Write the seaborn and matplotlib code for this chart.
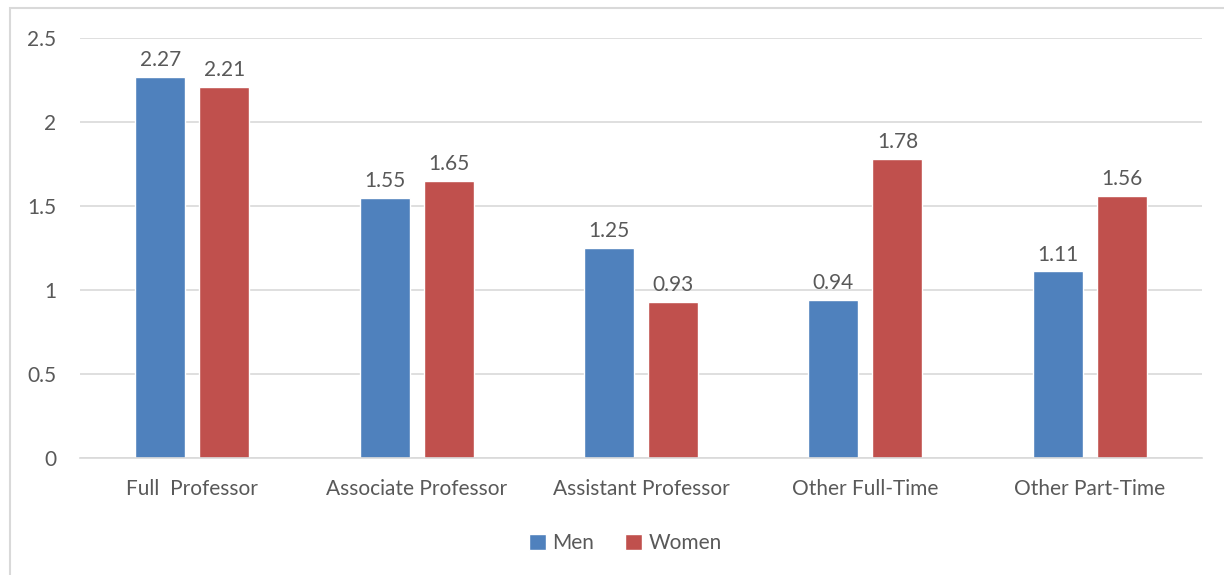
import pandas as pd
import matplotlib.pyplot as plt
import seaborn as sns
from matplotlib.patches import Rectangle

categories = ["Full  Professor", "Associate Professor", "Assistant Professor",
              "Other Full-Time", "Other Part-Time"]
men = [2.27, 1.55, 1.25, 0.94, 1.11]
women = [2.21, 1.65, 0.93, 1.78, 1.56]

df = pd.DataFrame({
    "Category": categories * 2,
    "Value": men + women,
    "Group": ["Men"] * len(men) + ["Women"] * len(women),
})

sns.set_style("white")
plt.rcParams['font.family'] = ['Lato', 'DejaVu Sans']
txt = "#595959"
fs = 15

fig = plt.figure(figsize=(12.24, 5.75), dpi=100)
ax = fig.add_axes([0.0654, 0.2035, 0.9166, 0.7305])

sns.barplot(data=df, x="Category", y="Value", hue="Group",
            palette=["#4F81BD", "#C0504D"], width=0.57, gap=0.22,
            ax=ax, saturation=1)

for c in ax.containers:
    ax.bar_label(c, labels=[f"{v:.2f}" for v in c.datavalues],
                 padding=5, fontsize=fs, color=txt)

ax.set_ylim(0, 2.5)
ax.set_yticks([0, 0.5, 1, 1.5, 2, 2.5])
ax.set_yticklabels(["0", "0.5", "1", "1.5", "2", "2.5"])
ax.set_xlim(-0.5, 4.5)
ax.grid(axis="y", color="#D9D9D9", linewidth=1.2)
ax.set_axisbelow(True)
for s in ["top", "right", "left"]:
    ax.spines[s].set_visible(False)
ax.spines["bottom"].set_color("#D9D9D9")
ax.spines["bottom"].set_linewidth(1.2)
ax.tick_params(axis="both", length=0, labelsize=fs, colors=txt)
ax.tick_params(axis="y", pad=17)
ax.tick_params(axis="x", pad=15)
ax.set_xlabel("")
ax.set_ylabel("")

handles, labels = ax.get_legend_handles_labels()
ax.get_legend().remove()
fig.legend(handles, labels, loc="center", bbox_to_anchor=(0.511, 0.056),
           ncol=2, frameon=False, fontsize=fs, labelcolor=txt,
           handlelength=0.8, handleheight=0.8, handletextpad=0.3,
           columnspacing=1.5)

fig.patches.append(Rectangle((10 / 1224, -0.1), 1.2, 1 - 8 / 575 + 0.1,
                             transform=fig.transFigure, fill=False,
                             edgecolor="#D9D9D9", linewidth=1.5))

fig.savefig("out.png", dpi=100)
